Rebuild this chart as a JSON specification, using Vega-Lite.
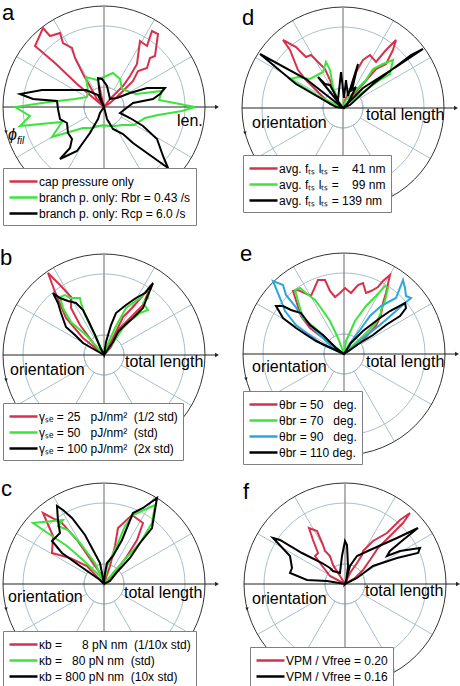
{
"$schema":"https://vega.github.io/schema/vega-lite/v6.json",
"padding":0,
"autosize":{"type":"pad"},
"columns":2,
"spacing":0,
"bounds":"flush",
"config":{"view":{"stroke":null},"font":"Liberation Sans","axis":{"disable":true},
"legend":{"labelFont":"Liberation Sans","labelFontSize":12,"labelColor":"black","padding":5,"rowPadding":1,"fillColor":"white","strokeColor":"#7f7f7f","symbolSize":196,"symbolStrokeWidth":2.5,"labelOffset":14,"cornerRadius":0}},
"resolve":{"scale":{"color":"independent","radius":"independent"},"legend":{"color":"independent"}},
"datasets":{
"rings":[{"r":20},{"r":61}],
"spokes":[{"x":17.3,"y":10,"x2":87.5,"y2":50.5},{"x":10,"y":17.3,"x2":50.5,"y2":87.5},{"x":-10,"y":17.3,"x2":-50.5,"y2":87.5},{"x":-17.3,"y":10,"x2":-87.5,"y2":50.5},{"x":-17.3,"y":-10,"x2":-87.5,"y2":-50.5},{"x":-10,"y":-17.3,"x2":-50.5,"y2":-87.5},{"x":10,"y":-17.3,"x2":50.5,"y2":-87.5},{"x":17.3,"y":-10,"x2":87.5,"y2":-50.5}],
"a":[
{"s":"1","i":0,"x":0,"y":0},{"s":"1","i":1,"x":-27,"y":23},{"s":"1","i":2,"x":-49,"y":44},{"s":"1","i":3,"x":-69,"y":61},{"s":"1","i":4,"x":-61,"y":79},{"s":"1","i":5,"x":-54,"y":71},{"s":"1","i":6,"x":-44,"y":74},{"s":"1","i":7,"x":-41,"y":64},{"s":"1","i":8,"x":-32,"y":59},{"s":"1","i":9,"x":-29,"y":49},{"s":"1","i":10,"x":-21,"y":33},{"s":"1","i":11,"x":-7,"y":8},{"s":"1","i":12,"x":0,"y":0},{"s":"1","i":13,"x":-5,"y":22},{"s":"1","i":14,"x":-2,"y":4},{"s":"1","i":15,"x":0,"y":0},{"s":"1","i":16,"x":6,"y":8},{"s":"1","i":17,"x":19,"y":21},{"s":"1","i":18,"x":26,"y":31},{"s":"1","i":19,"x":33,"y":43},{"s":"1","i":20,"x":36,"y":66},{"s":"1","i":21,"x":43,"y":61},{"s":"1","i":22,"x":48,"y":76},{"s":"1","i":23,"x":54,"y":73},{"s":"1","i":24,"x":51,"y":51},{"s":"1","i":25,"x":46,"y":49},{"s":"1","i":26,"x":43,"y":39},{"s":"1","i":27,"x":34,"y":36},{"s":"1","i":28,"x":29,"y":26},{"s":"1","i":29,"x":16,"y":13},{"s":"1","i":30,"x":6,"y":4},{"s":"1","i":31,"x":0,"y":0},
{"s":"2","i":0,"x":91,"y":0},{"s":"2","i":1,"x":55,"y":7},{"s":"2","i":2,"x":58,"y":16},{"s":"2","i":3,"x":32,"y":13},{"s":"2","i":4,"x":26,"y":15},{"s":"2","i":5,"x":18,"y":18},{"s":"2","i":6,"x":16,"y":28},{"s":"2","i":7,"x":9,"y":34},{"s":"2","i":8,"x":0,"y":30},{"s":"2","i":9,"x":-7,"y":27},{"s":"2","i":10,"x":-18,"y":30},{"s":"2","i":11,"x":-16,"y":16},{"s":"2","i":12,"x":-17,"y":10},{"s":"2","i":13,"x":-29,"y":8},{"s":"2","i":14,"x":-55,"y":5},{"s":"2","i":15,"x":-89,"y":0},{"s":"2","i":16,"x":-74,"y":-9},{"s":"2","i":17,"x":-84,"y":-19},{"s":"2","i":18,"x":-42,"y":-15},{"s":"2","i":19,"x":-52,"y":-30},{"s":"2","i":20,"x":-21,"y":-21},{"s":"2","i":21,"x":-12,"y":-21},{"s":"2","i":22,"x":-5,"y":-19},{"s":"2","i":23,"x":0,"y":-18},{"s":"2","i":24,"x":5,"y":-19},{"s":"2","i":25,"x":11,"y":-19},{"s":"2","i":26,"x":18,"y":-18},{"s":"2","i":27,"x":30,"y":-18},{"s":"2","i":28,"x":41,"y":-11},{"s":"2","i":29,"x":54,"y":-8},{"s":"2","i":30,"x":78,"y":-4},{"s":"2","i":31,"x":91,"y":0},
{"s":"3","i":0,"x":0,"y":0},{"s":"3","i":1,"x":-6,"y":12},{"s":"3","i":2,"x":-18,"y":17},{"s":"3","i":3,"x":-38,"y":17},{"s":"3","i":4,"x":-62,"y":17},{"s":"3","i":5,"x":-84,"y":13},{"s":"3","i":6,"x":-71,"y":8},{"s":"3","i":7,"x":-47,"y":6},{"s":"3","i":8,"x":-46,"y":-2},{"s":"3","i":9,"x":-44,"y":-12},{"s":"3","i":10,"x":-37,"y":-16},{"s":"3","i":11,"x":-36,"y":-26},{"s":"3","i":12,"x":-32,"y":-32},{"s":"3","i":13,"x":-34,"y":-41},{"s":"3","i":14,"x":-44,"y":-52},{"s":"3","i":15,"x":-27,"y":-44},{"s":"3","i":16,"x":-14,"y":-26},{"s":"3","i":17,"x":-6,"y":-12},{"s":"3","i":18,"x":-4,"y":-6},{"s":"3","i":19,"x":0,"y":0},{"s":"3","i":20,"x":3,"y":-12},{"s":"3","i":21,"x":9,"y":-22},{"s":"3","i":22,"x":19,"y":-27},{"s":"3","i":23,"x":29,"y":-36},{"s":"3","i":24,"x":43,"y":-46},{"s":"3","i":25,"x":64,"y":-61},{"s":"3","i":26,"x":59,"y":-49},{"s":"3","i":27,"x":53,"y":-32},{"s":"3","i":28,"x":39,"y":-19},{"s":"3","i":29,"x":26,"y":-11},{"s":"3","i":30,"x":16,"y":-6},{"s":"3","i":31,"x":29,"y":4},{"s":"3","i":32,"x":49,"y":8},{"s":"3","i":33,"x":56,"y":13},{"s":"3","i":34,"x":61,"y":19},{"s":"3","i":35,"x":43,"y":19},{"s":"3","i":36,"x":26,"y":14},{"s":"3","i":37,"x":13,"y":9},{"s":"3","i":38,"x":6,"y":8},{"s":"3","i":39,"x":3,"y":21},{"s":"3","i":40,"x":-2,"y":28},{"s":"3","i":41,"x":-6,"y":29},{"s":"3","i":42,"x":-4,"y":11},{"s":"3","i":43,"x":0,"y":0}],
"b":[
{"s":"1","i":0,"x":0,"y":0},{"s":"1","i":1,"x":-21,"y":17},{"s":"1","i":2,"x":-38,"y":37},{"s":"1","i":3,"x":-49,"y":63},{"s":"1","i":4,"x":-56,"y":82},{"s":"1","i":5,"x":-44,"y":70},{"s":"1","i":6,"x":-33,"y":58},{"s":"1","i":7,"x":-33,"y":47},{"s":"1","i":8,"x":-24,"y":30},{"s":"1","i":9,"x":-4,"y":3},{"s":"1","i":10,"x":0,"y":0},{"s":"1","i":11,"x":9,"y":17},{"s":"1","i":12,"x":19,"y":38},{"s":"1","i":13,"x":29,"y":48},{"s":"1","i":14,"x":42,"y":63},{"s":"1","i":15,"x":47,"y":70},{"s":"1","i":16,"x":39,"y":50},{"s":"1","i":17,"x":29,"y":40},{"s":"1","i":18,"x":16,"y":27},{"s":"1","i":19,"x":7,"y":8},{"s":"1","i":20,"x":0,"y":0},
{"s":"2","i":0,"x":0,"y":0},{"s":"2","i":1,"x":-18,"y":20},{"s":"2","i":2,"x":-33,"y":33},{"s":"2","i":3,"x":-41,"y":47},{"s":"2","i":4,"x":-44,"y":58},{"s":"2","i":5,"x":-39,"y":60},{"s":"2","i":6,"x":-34,"y":57},{"s":"2","i":7,"x":-24,"y":57},{"s":"2","i":8,"x":-23,"y":52},{"s":"2","i":9,"x":-19,"y":40},{"s":"2","i":10,"x":-9,"y":20},{"s":"2","i":11,"x":-3,"y":7},{"s":"2","i":12,"x":0,"y":0},{"s":"2","i":13,"x":2,"y":7},{"s":"2","i":14,"x":11,"y":27},{"s":"2","i":15,"x":22,"y":47},{"s":"2","i":16,"x":36,"y":57},{"s":"2","i":17,"x":46,"y":68},{"s":"2","i":18,"x":44,"y":57},{"s":"2","i":19,"x":39,"y":52},{"s":"2","i":20,"x":44,"y":45},{"s":"2","i":21,"x":36,"y":42},{"s":"2","i":22,"x":27,"y":35},{"s":"2","i":23,"x":19,"y":27},{"s":"2","i":24,"x":9,"y":12},{"s":"2","i":25,"x":0,"y":0},
{"s":"3","i":0,"x":0,"y":0},{"s":"3","i":1,"x":-21,"y":12},{"s":"3","i":2,"x":-29,"y":20},{"s":"3","i":3,"x":-38,"y":28},{"s":"3","i":4,"x":-43,"y":42},{"s":"3","i":5,"x":-46,"y":52},{"s":"3","i":6,"x":-51,"y":62},{"s":"3","i":7,"x":-44,"y":57},{"s":"3","i":8,"x":-36,"y":54},{"s":"3","i":9,"x":-28,"y":52},{"s":"3","i":10,"x":-21,"y":45},{"s":"3","i":11,"x":-16,"y":35},{"s":"3","i":12,"x":-9,"y":20},{"s":"3","i":13,"x":-4,"y":8},{"s":"3","i":14,"x":0,"y":0},{"s":"3","i":15,"x":2,"y":13},{"s":"3","i":16,"x":7,"y":30},{"s":"3","i":17,"x":12,"y":42},{"s":"3","i":18,"x":22,"y":50},{"s":"3","i":19,"x":32,"y":57},{"s":"3","i":20,"x":41,"y":62},{"s":"3","i":21,"x":49,"y":72},{"s":"3","i":22,"x":44,"y":60},{"s":"3","i":23,"x":39,"y":47},{"s":"3","i":24,"x":29,"y":37},{"s":"3","i":25,"x":21,"y":30},{"s":"3","i":26,"x":14,"y":23},{"s":"3","i":27,"x":9,"y":13},{"s":"3","i":28,"x":0,"y":0}],
"c":[
{"s":"1","i":0,"x":0,"y":0},{"s":"1","i":1,"x":-17,"y":18},{"s":"1","i":2,"x":-34,"y":26},{"s":"1","i":3,"x":-52,"y":31},{"s":"1","i":4,"x":-51,"y":48},{"s":"1","i":5,"x":-61,"y":71},{"s":"1","i":6,"x":-42,"y":61},{"s":"1","i":7,"x":-27,"y":44},{"s":"1","i":8,"x":-11,"y":21},{"s":"1","i":9,"x":-2,"y":8},{"s":"1","i":10,"x":0,"y":0},{"s":"1","i":11,"x":6,"y":18},{"s":"1","i":12,"x":11,"y":38},{"s":"1","i":13,"x":14,"y":56},{"s":"1","i":14,"x":28,"y":69},{"s":"1","i":15,"x":39,"y":61},{"s":"1","i":16,"x":33,"y":44},{"s":"1","i":17,"x":23,"y":28},{"s":"1","i":18,"x":9,"y":9},{"s":"1","i":19,"x":0,"y":0},
{"s":"2","i":0,"x":0,"y":0},{"s":"2","i":1,"x":-4,"y":8},{"s":"2","i":2,"x":-21,"y":24},{"s":"2","i":3,"x":-37,"y":38},{"s":"2","i":4,"x":-52,"y":48},{"s":"2","i":5,"x":-71,"y":61},{"s":"2","i":6,"x":-41,"y":64},{"s":"2","i":7,"x":-46,"y":58},{"s":"2","i":8,"x":-36,"y":54},{"s":"2","i":9,"x":-24,"y":41},{"s":"2","i":10,"x":-9,"y":21},{"s":"2","i":11,"x":-1,"y":4},{"s":"2","i":12,"x":0,"y":0},{"s":"2","i":13,"x":3,"y":18},{"s":"2","i":14,"x":14,"y":41},{"s":"2","i":15,"x":21,"y":58},{"s":"2","i":16,"x":29,"y":69},{"s":"2","i":17,"x":51,"y":79},{"s":"2","i":18,"x":48,"y":61},{"s":"2","i":19,"x":36,"y":41},{"s":"2","i":20,"x":24,"y":28},{"s":"2","i":21,"x":9,"y":11},{"s":"2","i":22,"x":0,"y":0},
{"s":"3","i":0,"x":0,"y":0},{"s":"3","i":1,"x":-4,"y":4},{"s":"3","i":2,"x":-24,"y":18},{"s":"3","i":3,"x":-42,"y":31},{"s":"3","i":4,"x":-52,"y":43},{"s":"3","i":5,"x":-47,"y":48},{"s":"3","i":6,"x":-44,"y":51},{"s":"3","i":7,"x":-46,"y":63},{"s":"3","i":8,"x":-47,"y":78},{"s":"3","i":9,"x":-41,"y":74},{"s":"3","i":10,"x":-32,"y":66},{"s":"3","i":11,"x":-19,"y":49},{"s":"3","i":12,"x":-11,"y":34},{"s":"3","i":13,"x":-4,"y":21},{"s":"3","i":14,"x":-2,"y":11},{"s":"3","i":15,"x":0,"y":0},{"s":"3","i":16,"x":1,"y":11},{"s":"3","i":17,"x":3,"y":21},{"s":"3","i":18,"x":9,"y":28},{"s":"3","i":19,"x":18,"y":44},{"s":"3","i":20,"x":29,"y":71},{"s":"3","i":21,"x":39,"y":76},{"s":"3","i":22,"x":53,"y":86},{"s":"3","i":23,"x":48,"y":56},{"s":"3","i":24,"x":36,"y":41},{"s":"3","i":25,"x":26,"y":26},{"s":"3","i":26,"x":14,"y":13},{"s":"3","i":27,"x":6,"y":3},{"s":"3","i":28,"x":0,"y":0}],
"d":[
{"s":"1","i":0,"x":0,"y":0},{"s":"1","i":1,"x":-13,"y":4},{"s":"1","i":2,"x":-37,"y":28},{"s":"1","i":3,"x":-45,"y":38},{"s":"1","i":4,"x":-53,"y":58},{"s":"1","i":5,"x":-60,"y":68},{"s":"1","i":6,"x":-47,"y":61},{"s":"1","i":7,"x":-37,"y":51},{"s":"1","i":8,"x":-32,"y":53},{"s":"1","i":9,"x":-27,"y":48},{"s":"1","i":10,"x":-18,"y":39},{"s":"1","i":11,"x":-13,"y":28},{"s":"1","i":12,"x":-7,"y":11},{"s":"1","i":13,"x":-2,"y":1},{"s":"1","i":14,"x":0,"y":0},{"s":"1","i":15,"x":2,"y":8},{"s":"1","i":16,"x":7,"y":18},{"s":"1","i":17,"x":13,"y":36},{"s":"1","i":18,"x":20,"y":48},{"s":"1","i":19,"x":27,"y":53},{"s":"1","i":20,"x":33,"y":46},{"s":"1","i":21,"x":43,"y":58},{"s":"1","i":22,"x":53,"y":68},{"s":"1","i":23,"x":50,"y":58},{"s":"1","i":24,"x":43,"y":44},{"s":"1","i":25,"x":33,"y":39},{"s":"1","i":26,"x":20,"y":24},{"s":"1","i":27,"x":10,"y":13},{"s":"1","i":28,"x":3,"y":3},{"s":"1","i":29,"x":0,"y":0},
{"s":"2","i":0,"x":0,"y":0},{"s":"2","i":1,"x":-23,"y":11},{"s":"2","i":2,"x":-53,"y":29},{"s":"2","i":3,"x":-45,"y":31},{"s":"2","i":4,"x":-33,"y":29},{"s":"2","i":5,"x":-20,"y":36},{"s":"2","i":6,"x":-17,"y":46},{"s":"2","i":7,"x":-13,"y":38},{"s":"2","i":8,"x":-10,"y":21},{"s":"2","i":9,"x":-5,"y":8},{"s":"2","i":10,"x":0,"y":0},{"s":"2","i":11,"x":3,"y":8},{"s":"2","i":12,"x":13,"y":18},{"s":"2","i":13,"x":23,"y":28},{"s":"2","i":14,"x":30,"y":39},{"s":"2","i":15,"x":40,"y":44},{"s":"2","i":16,"x":50,"y":48},{"s":"2","i":17,"x":47,"y":34},{"s":"2","i":18,"x":37,"y":28},{"s":"2","i":19,"x":27,"y":21},{"s":"2","i":20,"x":13,"y":11},{"s":"2","i":21,"x":3,"y":3},{"s":"2","i":22,"x":0,"y":0},
{"s":"3","i":0,"x":0,"y":0},{"s":"3","i":1,"x":-37,"y":29},{"s":"3","i":2,"x":-83,"y":54},{"s":"3","i":3,"x":-47,"y":24},{"s":"3","i":4,"x":-7,"y":1},{"s":"3","i":5,"x":0,"y":0},{"s":"3","i":6,"x":-25,"y":31},{"s":"3","i":7,"x":-18,"y":24},{"s":"3","i":8,"x":-13,"y":23},{"s":"3","i":9,"x":-5,"y":8},{"s":"3","i":10,"x":-2,"y":36},{"s":"3","i":11,"x":1,"y":10},{"s":"3","i":12,"x":3,"y":28},{"s":"3","i":13,"x":5,"y":12},{"s":"3","i":14,"x":15,"y":44},{"s":"3","i":15,"x":9,"y":18},{"s":"3","i":16,"x":13,"y":21},{"s":"3","i":17,"x":5,"y":5},{"s":"3","i":18,"x":0,"y":0},{"s":"3","i":19,"x":20,"y":20},{"s":"3","i":20,"x":53,"y":41},{"s":"3","i":21,"x":80,"y":59},{"s":"3","i":22,"x":68,"y":53},{"s":"3","i":23,"x":30,"y":24},{"s":"3","i":24,"x":7,"y":3},{"s":"3","i":25,"x":0,"y":0}],
"e":[
{"s":"1","i":0,"x":0,"y":0},{"s":"1","i":1,"x":-34,"y":26},{"s":"1","i":2,"x":-43,"y":38},{"s":"1","i":3,"x":-51,"y":63},{"s":"1","i":4,"x":-46,"y":64},{"s":"1","i":5,"x":-33,"y":58},{"s":"1","i":6,"x":-26,"y":74},{"s":"1","i":7,"x":-19,"y":74},{"s":"1","i":8,"x":-14,"y":63},{"s":"1","i":9,"x":-9,"y":57},{"s":"1","i":10,"x":-4,"y":61},{"s":"1","i":11,"x":1,"y":66},{"s":"1","i":12,"x":7,"y":61},{"s":"1","i":13,"x":14,"y":69},{"s":"1","i":14,"x":19,"y":71},{"s":"1","i":15,"x":22,"y":61},{"s":"1","i":16,"x":27,"y":63},{"s":"1","i":17,"x":34,"y":67},{"s":"1","i":18,"x":39,"y":73},{"s":"1","i":19,"x":46,"y":79},{"s":"1","i":20,"x":42,"y":61},{"s":"1","i":21,"x":39,"y":51},{"s":"1","i":22,"x":37,"y":39},{"s":"1","i":23,"x":32,"y":28},{"s":"1","i":24,"x":19,"y":14},{"s":"1","i":25,"x":6,"y":4},{"s":"1","i":26,"x":0,"y":0},
{"s":"2","i":0,"x":0,"y":0},{"s":"2","i":1,"x":-11,"y":9},{"s":"2","i":2,"x":-29,"y":26},{"s":"2","i":3,"x":-41,"y":36},{"s":"2","i":4,"x":-46,"y":53},{"s":"2","i":5,"x":-49,"y":64},{"s":"2","i":6,"x":-44,"y":66},{"s":"2","i":7,"x":-38,"y":61},{"s":"2","i":8,"x":-29,"y":54},{"s":"2","i":9,"x":-23,"y":46},{"s":"2","i":10,"x":-14,"y":33},{"s":"2","i":11,"x":-6,"y":16},{"s":"2","i":12,"x":-1,"y":3},{"s":"2","i":13,"x":0,"y":0},{"s":"2","i":14,"x":2,"y":13},{"s":"2","i":15,"x":11,"y":33},{"s":"2","i":16,"x":22,"y":48},{"s":"2","i":17,"x":32,"y":58},{"s":"2","i":18,"x":41,"y":68},{"s":"2","i":19,"x":44,"y":66},{"s":"2","i":20,"x":41,"y":53},{"s":"2","i":21,"x":37,"y":44},{"s":"2","i":22,"x":37,"y":41},{"s":"2","i":23,"x":32,"y":31},{"s":"2","i":24,"x":19,"y":18},{"s":"2","i":25,"x":6,"y":6},{"s":"2","i":26,"x":0,"y":0},
{"s":"3","i":0,"x":0,"y":0},{"s":"3","i":1,"x":-21,"y":9},{"s":"3","i":2,"x":-48,"y":29},{"s":"3","i":3,"x":-59,"y":43},{"s":"3","i":4,"x":-64,"y":56},{"s":"3","i":5,"x":-71,"y":73},{"s":"3","i":6,"x":-61,"y":69},{"s":"3","i":7,"x":-58,"y":59},{"s":"3","i":8,"x":-49,"y":48},{"s":"3","i":9,"x":-43,"y":39},{"s":"3","i":10,"x":-28,"y":23},{"s":"3","i":11,"x":-11,"y":6},{"s":"3","i":12,"x":0,"y":0},{"s":"3","i":13,"x":6,"y":11},{"s":"3","i":14,"x":16,"y":24},{"s":"3","i":15,"x":26,"y":38},{"s":"3","i":16,"x":37,"y":48},{"s":"3","i":17,"x":52,"y":56},{"s":"3","i":18,"x":59,"y":74},{"s":"3","i":19,"x":61,"y":66},{"s":"3","i":20,"x":62,"y":58},{"s":"3","i":21,"x":67,"y":56},{"s":"3","i":22,"x":61,"y":51},{"s":"3","i":23,"x":52,"y":43},{"s":"3","i":24,"x":36,"y":29},{"s":"3","i":25,"x":19,"y":16},{"s":"3","i":26,"x":6,"y":4},{"s":"3","i":27,"x":0,"y":0},
{"s":"4","i":0,"x":0,"y":0},{"s":"4","i":1,"x":-28,"y":13},{"s":"4","i":2,"x":-48,"y":26},{"s":"4","i":3,"x":-61,"y":36},{"s":"4","i":4,"x":-68,"y":48},{"s":"4","i":5,"x":-61,"y":48},{"s":"4","i":6,"x":-53,"y":44},{"s":"4","i":7,"x":-43,"y":41},{"s":"4","i":8,"x":-34,"y":29},{"s":"4","i":9,"x":-21,"y":19},{"s":"4","i":10,"x":-8,"y":6},{"s":"4","i":11,"x":0,"y":0},{"s":"4","i":12,"x":7,"y":11},{"s":"4","i":13,"x":19,"y":23},{"s":"4","i":14,"x":36,"y":36},{"s":"4","i":15,"x":46,"y":43},{"s":"4","i":16,"x":61,"y":51},{"s":"4","i":17,"x":62,"y":46},{"s":"4","i":18,"x":56,"y":38},{"s":"4","i":19,"x":42,"y":29},{"s":"4","i":20,"x":29,"y":19},{"s":"4","i":21,"x":16,"y":11},{"s":"4","i":22,"x":0,"y":0}],
"f":[
{"s":"1","i":0,"x":0,"y":0},{"s":"1","i":1,"x":-15,"y":8},{"s":"1","i":2,"x":-25,"y":21},{"s":"1","i":3,"x":-30,"y":28},{"s":"1","i":4,"x":-27,"y":31},{"s":"1","i":5,"x":-32,"y":44},{"s":"1","i":6,"x":-36,"y":56},{"s":"1","i":7,"x":-28,"y":53},{"s":"1","i":8,"x":-25,"y":46},{"s":"1","i":9,"x":-22,"y":39},{"s":"1","i":10,"x":-20,"y":33},{"s":"1","i":11,"x":-15,"y":28},{"s":"1","i":12,"x":-12,"y":19},{"s":"1","i":13,"x":-5,"y":8},{"s":"1","i":14,"x":0,"y":0},{"s":"1","i":15,"x":5,"y":11},{"s":"1","i":16,"x":12,"y":21},{"s":"1","i":17,"x":17,"y":29},{"s":"1","i":18,"x":18,"y":33},{"s":"1","i":19,"x":28,"y":43},{"s":"1","i":20,"x":42,"y":51},{"s":"1","i":21,"x":55,"y":64},{"s":"1","i":22,"x":65,"y":71},{"s":"1","i":23,"x":58,"y":61},{"s":"1","i":24,"x":45,"y":48},{"s":"1","i":25,"x":33,"y":36},{"s":"1","i":26,"x":25,"y":24},{"s":"1","i":27,"x":18,"y":14},{"s":"1","i":28,"x":10,"y":6},{"s":"1","i":29,"x":0,"y":0},
{"s":"2","i":0,"x":0,"y":0},{"s":"2","i":1,"x":-18,"y":3},{"s":"2","i":2,"x":-38,"y":4},{"s":"2","i":3,"x":-55,"y":11},{"s":"2","i":4,"x":-53,"y":16},{"s":"2","i":5,"x":-55,"y":28},{"s":"2","i":6,"x":-72,"y":46},{"s":"2","i":7,"x":-65,"y":44},{"s":"2","i":8,"x":-43,"y":31},{"s":"2","i":9,"x":-23,"y":21},{"s":"2","i":10,"x":-15,"y":16},{"s":"2","i":11,"x":-12,"y":13},{"s":"2","i":12,"x":-5,"y":11},{"s":"2","i":13,"x":-3,"y":28},{"s":"2","i":14,"x":0,"y":43},{"s":"2","i":15,"x":2,"y":39},{"s":"2","i":16,"x":3,"y":18},{"s":"2","i":17,"x":1,"y":1},{"s":"2","i":18,"x":0,"y":0},{"s":"2","i":19,"x":5,"y":18},{"s":"2","i":20,"x":12,"y":28},{"s":"2","i":21,"x":25,"y":34},{"s":"2","i":22,"x":52,"y":46},{"s":"2","i":23,"x":73,"y":56},{"s":"2","i":24,"x":58,"y":44},{"s":"2","i":25,"x":45,"y":33},{"s":"2","i":26,"x":42,"y":28},{"s":"2","i":27,"x":55,"y":33},{"s":"2","i":28,"x":75,"y":36},{"s":"2","i":29,"x":73,"y":31},{"s":"2","i":30,"x":52,"y":26},{"s":"2","i":31,"x":28,"y":18},{"s":"2","i":32,"x":12,"y":6},{"s":"2","i":33,"x":0,"y":0}]
},
"concat":[
{"width":230,"height":235,"layer":[
{"data":{"name":"rings"},"mark":{"type":"arc","theta":0,"theta2":6.2832,"filled":false,"stroke":"#a9bfcb","strokeWidth":1},"encoding":{"x":{"datum":0,"type":"quantitative","scale":{"domain":[-104,126],"nice":false,"zero":false}},"y":{"datum":0,"type":"quantitative","scale":{"domain":[-128,107],"nice":false,"zero":false}},"radius":{"field":"r","type":"quantitative","scale":{"type":"linear","domain":[0,101],"range":[0,101]}}}},
{"data":{"name":"spokes"},"mark":{"type":"rule","stroke":"#a9bfcb","strokeWidth":1},"encoding":{"x":{"field":"x","type":"quantitative","scale":{"domain":[-104,126],"nice":false,"zero":false}},"y":{"field":"y","type":"quantitative","scale":{"domain":[-128,107],"nice":false,"zero":false}},"x2":{"field":"x2"},"y2":{"field":"y2"}}},
{"data":{"values":[{}]},"mark":{"type":"arc","theta":0,"theta2":6.2832,"filled":false,"stroke":"#333333","strokeWidth":1},"encoding":{"x":{"datum":0,"type":"quantitative","scale":{"domain":[-104,126],"nice":false,"zero":false}},"y":{"datum":0,"type":"quantitative","scale":{"domain":[-128,107],"nice":false,"zero":false}},"radius":{"datum":101,"type":"quantitative","scale":{"type":"linear","domain":[0,101],"range":[0,101]}}}},
{"data":{"values":[{}]},"mark":{"type":"rule","stroke":"#999999","strokeWidth":1.5},"encoding":{"x":{"datum":0,"type":"quantitative","scale":{"domain":[-104,126],"nice":false,"zero":false}},"y":{"datum":-101,"type":"quantitative","scale":{"domain":[-128,107],"nice":false,"zero":false}},"y2":{"datum":101}}},
{"data":{"values":[{}]},"mark":{"type":"rule","stroke":"#222222","strokeWidth":1},"encoding":{"x":{"datum":-101,"type":"quantitative","scale":{"domain":[-104,126],"nice":false,"zero":false}},"x2":{"datum":112},"y":{"datum":0,"type":"quantitative","scale":{"domain":[-128,107],"nice":false,"zero":false}}}},
{"data":{"values":[{}]},"mark":{"type":"point","shape":"triangle-right","filled":true,"color":"#222222","opacity":1,"size":20},"encoding":{"x":{"datum":113,"type":"quantitative","scale":{"domain":[-104,126],"nice":false,"zero":false}},"y":{"datum":0,"type":"quantitative","scale":{"domain":[-128,107],"nice":false,"zero":false}}}},
{"data":{"values":[{}]},"mark":{"type":"point","shape":"triangle-down","filled":true,"color":"#222222","opacity":1,"size":12},"encoding":{"x":{"datum":-98,"type":"quantitative","scale":{"domain":[-104,126],"nice":false,"zero":false}},"y":{"datum":-25,"type":"quantitative","scale":{"domain":[-128,107],"nice":false,"zero":false}}}},
{"data":{"name":"a"},"mark":{"type":"line","strokeWidth":2},"encoding":{"x":{"field":"x","type":"quantitative","scale":{"domain":[-104,126],"nice":false,"zero":false}},"y":{"field":"y","type":"quantitative","scale":{"domain":[-128,107],"nice":false,"zero":false}},"order":{"field":"i"},"color":{"field":"s","type":"nominal","scale":{"domain":["1","2","3"],"range":["#d8304a","#3be43b","#000000"]},"legend":{"orient":"none","legendX":3,"legendY":168,"title":null,"symbolType":"M-1,0L3,0","labelExpr":"datum.label=='1'?'cap pressure only':datum.label=='2'?'branch p. only: Rbr = 0.43 /s':'branch p. only: Rcp = 6.0 /s'"}}}},
{"data":{"values":[{}]},"mark":{"type":"text","text":"a","fontSize":22,"align":"left","baseline":"alphabetic"},"encoding":{"x":{"datum":-102,"type":"quantitative","scale":{"domain":[-104,126],"nice":false,"zero":false}},"y":{"datum":87,"type":"quantitative","scale":{"domain":[-128,107],"nice":false,"zero":false}}}},
{"data":{"values":[{}]},"mark":{"type":"text","text":"len.","fontSize":16,"align":"left","baseline":"alphabetic"},"encoding":{"x":{"datum":73,"type":"quantitative","scale":{"domain":[-104,126],"nice":false,"zero":false}},"y":{"datum":-19,"type":"quantitative","scale":{"domain":[-128,107],"nice":false,"zero":false}}}},
{"data":{"values":[{}]},"mark":{"type":"text","text":"ϕ","fontSize":16,"fontStyle":"italic","align":"left","baseline":"alphabetic"},"encoding":{"x":{"datum":-96,"type":"quantitative","scale":{"domain":[-104,126],"nice":false,"zero":false}},"y":{"datum":-33,"type":"quantitative","scale":{"domain":[-128,107],"nice":false,"zero":false}}}},
{"data":{"values":[{}]},"mark":{"type":"text","text":"fil","fontSize":10,"fontStyle":"italic","align":"left","baseline":"alphabetic"},"encoding":{"x":{"datum":-87,"type":"quantitative","scale":{"domain":[-104,126],"nice":false,"zero":false}},"y":{"datum":-37,"type":"quantitative","scale":{"domain":[-128,107],"nice":false,"zero":false}}}}
]},
{"width":230,"height":235,"layer":[
{"data":{"name":"rings"},"mark":{"type":"arc","theta":0,"theta2":6.2832,"filled":false,"stroke":"#a9bfcb","strokeWidth":1},"encoding":{"x":{"datum":0,"type":"quantitative","scale":{"domain":[-113,117],"nice":false,"zero":false}},"y":{"datum":0,"type":"quantitative","scale":{"domain":[-127,108],"nice":false,"zero":false}},"radius":{"field":"r","type":"quantitative","scale":{"type":"linear","domain":[0,101],"range":[0,101]}}}},
{"data":{"name":"spokes"},"mark":{"type":"rule","stroke":"#a9bfcb","strokeWidth":1},"encoding":{"x":{"field":"x","type":"quantitative","scale":{"domain":[-113,117],"nice":false,"zero":false}},"y":{"field":"y","type":"quantitative","scale":{"domain":[-127,108],"nice":false,"zero":false}},"x2":{"field":"x2"},"y2":{"field":"y2"}}},
{"data":{"values":[{}]},"mark":{"type":"arc","theta":0,"theta2":6.2832,"filled":false,"stroke":"#333333","strokeWidth":1},"encoding":{"x":{"datum":0,"type":"quantitative","scale":{"domain":[-113,117],"nice":false,"zero":false}},"y":{"datum":0,"type":"quantitative","scale":{"domain":[-127,108],"nice":false,"zero":false}},"radius":{"datum":101,"type":"quantitative","scale":{"type":"linear","domain":[0,101],"range":[0,101]}}}},
{"data":{"values":[{}]},"mark":{"type":"rule","stroke":"#999999","strokeWidth":1.5},"encoding":{"x":{"datum":0,"type":"quantitative","scale":{"domain":[-113,117],"nice":false,"zero":false}},"y":{"datum":-101,"type":"quantitative","scale":{"domain":[-127,108],"nice":false,"zero":false}},"y2":{"datum":101}}},
{"data":{"values":[{}]},"mark":{"type":"rule","stroke":"#222222","strokeWidth":1},"encoding":{"x":{"datum":-101,"type":"quantitative","scale":{"domain":[-113,117],"nice":false,"zero":false}},"x2":{"datum":112},"y":{"datum":0,"type":"quantitative","scale":{"domain":[-127,108],"nice":false,"zero":false}}}},
{"data":{"values":[{}]},"mark":{"type":"point","shape":"triangle-right","filled":true,"color":"#222222","opacity":1,"size":20},"encoding":{"x":{"datum":113,"type":"quantitative","scale":{"domain":[-113,117],"nice":false,"zero":false}},"y":{"datum":0,"type":"quantitative","scale":{"domain":[-127,108],"nice":false,"zero":false}}}},
{"data":{"values":[{}]},"mark":{"type":"point","shape":"triangle-down","filled":true,"color":"#222222","opacity":1,"size":12},"encoding":{"x":{"datum":-98,"type":"quantitative","scale":{"domain":[-113,117],"nice":false,"zero":false}},"y":{"datum":-25,"type":"quantitative","scale":{"domain":[-127,108],"nice":false,"zero":false}}}},
{"data":{"name":"d"},"mark":{"type":"line","strokeWidth":2},"encoding":{"x":{"field":"x","type":"quantitative","scale":{"domain":[-113,117],"nice":false,"zero":false}},"y":{"field":"y","type":"quantitative","scale":{"domain":[-127,108],"nice":false,"zero":false}},"order":{"field":"i"},"color":{"field":"s","type":"nominal","scale":{"domain":["1","2","3"],"range":["#d8304a","#3be43b","#000000"]},"legend":{"orient":"none","legendX":13,"legendY":155,"title":null,"symbolType":"M-1,0L3,0","labelExpr":"datum.label=='1'?'avg. fₜₛ lₜₛ =\u00a0\u00a0\u00a0\u00a041 nm':datum.label=='2'?'avg. fₜₛ lₜₛ =\u00a0\u00a0\u00a0\u00a099 nm':'avg. fₜₛ lₜₛ = 139 nm'"}}}},
{"data":{"values":[{}]},"mark":{"type":"text","text":"d","fontSize":22,"align":"left","baseline":"alphabetic"},"encoding":{"x":{"datum":-101,"type":"quantitative","scale":{"domain":[-113,117],"nice":false,"zero":false}},"y":{"datum":83,"type":"quantitative","scale":{"domain":[-127,108],"nice":false,"zero":false}}}},
{"data":{"values":[{}]},"mark":{"type":"text","text":"orientation","fontSize":16,"align":"left","baseline":"alphabetic"},"encoding":{"x":{"datum":-91,"type":"quantitative","scale":{"domain":[-113,117],"nice":false,"zero":false}},"y":{"datum":-20,"type":"quantitative","scale":{"domain":[-127,108],"nice":false,"zero":false}}}},
{"data":{"values":[{}]},"mark":{"type":"text","text":"total length","fontSize":16,"align":"left","baseline":"alphabetic"},"encoding":{"x":{"datum":23,"type":"quantitative","scale":{"domain":[-113,117],"nice":false,"zero":false}},"y":{"datum":-12,"type":"quantitative","scale":{"domain":[-127,108],"nice":false,"zero":false}}}}
]},
{"width":230,"height":225,"layer":[
{"data":{"name":"rings"},"mark":{"type":"arc","theta":0,"theta2":6.2832,"filled":false,"stroke":"#a9bfcb","strokeWidth":1},"encoding":{"x":{"datum":0,"type":"quantitative","scale":{"domain":[-104,126],"nice":false,"zero":false}},"y":{"datum":0,"type":"quantitative","scale":{"domain":[-105,120],"nice":false,"zero":false}},"radius":{"field":"r","type":"quantitative","scale":{"type":"linear","domain":[0,101],"range":[0,101]}}}},
{"data":{"name":"spokes"},"mark":{"type":"rule","stroke":"#a9bfcb","strokeWidth":1},"encoding":{"x":{"field":"x","type":"quantitative","scale":{"domain":[-104,126],"nice":false,"zero":false}},"y":{"field":"y","type":"quantitative","scale":{"domain":[-105,120],"nice":false,"zero":false}},"x2":{"field":"x2"},"y2":{"field":"y2"}}},
{"data":{"values":[{}]},"mark":{"type":"arc","theta":0,"theta2":6.2832,"filled":false,"stroke":"#333333","strokeWidth":1},"encoding":{"x":{"datum":0,"type":"quantitative","scale":{"domain":[-104,126],"nice":false,"zero":false}},"y":{"datum":0,"type":"quantitative","scale":{"domain":[-105,120],"nice":false,"zero":false}},"radius":{"datum":101,"type":"quantitative","scale":{"type":"linear","domain":[0,101],"range":[0,101]}}}},
{"data":{"values":[{}]},"mark":{"type":"rule","stroke":"#999999","strokeWidth":1.5},"encoding":{"x":{"datum":0,"type":"quantitative","scale":{"domain":[-104,126],"nice":false,"zero":false}},"y":{"datum":-101,"type":"quantitative","scale":{"domain":[-105,120],"nice":false,"zero":false}},"y2":{"datum":101}}},
{"data":{"values":[{}]},"mark":{"type":"rule","stroke":"#222222","strokeWidth":1},"encoding":{"x":{"datum":-101,"type":"quantitative","scale":{"domain":[-104,126],"nice":false,"zero":false}},"x2":{"datum":112},"y":{"datum":0,"type":"quantitative","scale":{"domain":[-105,120],"nice":false,"zero":false}}}},
{"data":{"values":[{}]},"mark":{"type":"point","shape":"triangle-right","filled":true,"color":"#222222","opacity":1,"size":20},"encoding":{"x":{"datum":113,"type":"quantitative","scale":{"domain":[-104,126],"nice":false,"zero":false}},"y":{"datum":0,"type":"quantitative","scale":{"domain":[-105,120],"nice":false,"zero":false}}}},
{"data":{"values":[{}]},"mark":{"type":"point","shape":"triangle-down","filled":true,"color":"#222222","opacity":1,"size":12},"encoding":{"x":{"datum":-98,"type":"quantitative","scale":{"domain":[-104,126],"nice":false,"zero":false}},"y":{"datum":-25,"type":"quantitative","scale":{"domain":[-105,120],"nice":false,"zero":false}}}},
{"data":{"name":"b"},"mark":{"type":"line","strokeWidth":2},"encoding":{"x":{"field":"x","type":"quantitative","scale":{"domain":[-104,126],"nice":false,"zero":false}},"y":{"field":"y","type":"quantitative","scale":{"domain":[-105,120],"nice":false,"zero":false}},"order":{"field":"i"},"color":{"field":"s","type":"nominal","scale":{"domain":["1","2","3"],"range":["#d8304a","#3be43b","#000000"]},"legend":{"orient":"none","legendX":3,"legendY":168,"title":null,"symbolType":"M-1,0L3,0","labelExpr":"datum.label=='1'?'γₛₑ = 25\u00a0\u00a0\u00a0pJ/nm²\u00a0\u00a0(1/2 std)':datum.label=='2'?'γₛₑ = 50\u00a0\u00a0\u00a0pJ/nm²\u00a0\u00a0(std)':'γₛₑ = 100 pJ/nm²\u00a0\u00a0(2x std)'"}}}},
{"data":{"values":[{}]},"mark":{"type":"text","text":"b","fontSize":22,"align":"left","baseline":"alphabetic"},"encoding":{"x":{"datum":-104,"type":"quantitative","scale":{"domain":[-104,126],"nice":false,"zero":false}},"y":{"datum":90,"type":"quantitative","scale":{"domain":[-105,120],"nice":false,"zero":false}}}},
{"data":{"values":[{}]},"mark":{"type":"text","text":"orientation","fontSize":16,"align":"left","baseline":"alphabetic"},"encoding":{"x":{"datum":-94,"type":"quantitative","scale":{"domain":[-104,126],"nice":false,"zero":false}},"y":{"datum":-20,"type":"quantitative","scale":{"domain":[-105,120],"nice":false,"zero":false}}}},
{"data":{"values":[{}]},"mark":{"type":"text","text":"total length","fontSize":16,"align":"left","baseline":"alphabetic"},"encoding":{"x":{"datum":21,"type":"quantitative","scale":{"domain":[-104,126],"nice":false,"zero":false}},"y":{"datum":-12,"type":"quantitative","scale":{"domain":[-105,120],"nice":false,"zero":false}}}}
]},
{"width":230,"height":225,"layer":[
{"data":{"name":"rings"},"mark":{"type":"arc","theta":0,"theta2":6.2832,"filled":false,"stroke":"#a9bfcb","strokeWidth":1},"encoding":{"x":{"datum":0,"type":"quantitative","scale":{"domain":[-114,116],"nice":false,"zero":false}},"y":{"datum":0,"type":"quantitative","scale":{"domain":[-106,119],"nice":false,"zero":false}},"radius":{"field":"r","type":"quantitative","scale":{"type":"linear","domain":[0,101],"range":[0,101]}}}},
{"data":{"name":"spokes"},"mark":{"type":"rule","stroke":"#a9bfcb","strokeWidth":1},"encoding":{"x":{"field":"x","type":"quantitative","scale":{"domain":[-114,116],"nice":false,"zero":false}},"y":{"field":"y","type":"quantitative","scale":{"domain":[-106,119],"nice":false,"zero":false}},"x2":{"field":"x2"},"y2":{"field":"y2"}}},
{"data":{"values":[{}]},"mark":{"type":"arc","theta":0,"theta2":6.2832,"filled":false,"stroke":"#333333","strokeWidth":1},"encoding":{"x":{"datum":0,"type":"quantitative","scale":{"domain":[-114,116],"nice":false,"zero":false}},"y":{"datum":0,"type":"quantitative","scale":{"domain":[-106,119],"nice":false,"zero":false}},"radius":{"datum":101,"type":"quantitative","scale":{"type":"linear","domain":[0,101],"range":[0,101]}}}},
{"data":{"values":[{}]},"mark":{"type":"rule","stroke":"#999999","strokeWidth":1.5},"encoding":{"x":{"datum":0,"type":"quantitative","scale":{"domain":[-114,116],"nice":false,"zero":false}},"y":{"datum":-101,"type":"quantitative","scale":{"domain":[-106,119],"nice":false,"zero":false}},"y2":{"datum":101}}},
{"data":{"values":[{}]},"mark":{"type":"rule","stroke":"#222222","strokeWidth":1},"encoding":{"x":{"datum":-101,"type":"quantitative","scale":{"domain":[-114,116],"nice":false,"zero":false}},"x2":{"datum":112},"y":{"datum":0,"type":"quantitative","scale":{"domain":[-106,119],"nice":false,"zero":false}}}},
{"data":{"values":[{}]},"mark":{"type":"point","shape":"triangle-right","filled":true,"color":"#222222","opacity":1,"size":20},"encoding":{"x":{"datum":113,"type":"quantitative","scale":{"domain":[-114,116],"nice":false,"zero":false}},"y":{"datum":0,"type":"quantitative","scale":{"domain":[-106,119],"nice":false,"zero":false}}}},
{"data":{"values":[{}]},"mark":{"type":"point","shape":"triangle-down","filled":true,"color":"#222222","opacity":1,"size":12},"encoding":{"x":{"datum":-98,"type":"quantitative","scale":{"domain":[-114,116],"nice":false,"zero":false}},"y":{"datum":-25,"type":"quantitative","scale":{"domain":[-106,119],"nice":false,"zero":false}}}},
{"data":{"name":"e"},"mark":{"type":"line","strokeWidth":2},"encoding":{"x":{"field":"x","type":"quantitative","scale":{"domain":[-114,116],"nice":false,"zero":false}},"y":{"field":"y","type":"quantitative","scale":{"domain":[-106,119],"nice":false,"zero":false}},"order":{"field":"i"},"color":{"field":"s","type":"nominal","scale":{"domain":["1","2","3","4"],"range":["#d8304a","#3be43b","#2ba6e0","#000000"]},"legend":{"orient":"none","legendX":13,"legendY":156,"title":null,"symbolType":"M-1,0L3,0","labelExpr":"datum.label=='1'?'θbr = 50\u00a0\u00a0\u00a0deg.':datum.label=='2'?'θbr = 70\u00a0\u00a0\u00a0deg.':datum.label=='3'?'θbr = 90\u00a0\u00a0\u00a0deg.':'θbr = 110 deg.'"}}}},
{"data":{"values":[{}]},"mark":{"type":"text","text":"e","fontSize":22,"align":"left","baseline":"alphabetic"},"encoding":{"x":{"datum":-104,"type":"quantitative","scale":{"domain":[-114,116],"nice":false,"zero":false}},"y":{"datum":93,"type":"quantitative","scale":{"domain":[-106,119],"nice":false,"zero":false}}}},
{"data":{"values":[{}]},"mark":{"type":"text","text":"orientation","fontSize":16,"align":"left","baseline":"alphabetic"},"encoding":{"x":{"datum":-92,"type":"quantitative","scale":{"domain":[-114,116],"nice":false,"zero":false}},"y":{"datum":-18,"type":"quantitative","scale":{"domain":[-106,119],"nice":false,"zero":false}}}},
{"data":{"values":[{}]},"mark":{"type":"text","text":"total length","fontSize":16,"align":"left","baseline":"alphabetic"},"encoding":{"x":{"datum":22,"type":"quantitative","scale":{"domain":[-114,116],"nice":false,"zero":false}},"y":{"datum":-13,"type":"quantitative","scale":{"domain":[-106,119],"nice":false,"zero":false}}}}
]},
{"width":230,"height":226,"layer":[
{"data":{"name":"rings"},"mark":{"type":"arc","theta":0,"theta2":6.2832,"filled":false,"stroke":"#a9bfcb","strokeWidth":1},"encoding":{"x":{"datum":0,"type":"quantitative","scale":{"domain":[-104,126],"nice":false,"zero":false}},"y":{"datum":0,"type":"quantitative","scale":{"domain":[-102,124],"nice":false,"zero":false}},"radius":{"field":"r","type":"quantitative","scale":{"type":"linear","domain":[0,101],"range":[0,101]}}}},
{"data":{"name":"spokes"},"mark":{"type":"rule","stroke":"#a9bfcb","strokeWidth":1},"encoding":{"x":{"field":"x","type":"quantitative","scale":{"domain":[-104,126],"nice":false,"zero":false}},"y":{"field":"y","type":"quantitative","scale":{"domain":[-102,124],"nice":false,"zero":false}},"x2":{"field":"x2"},"y2":{"field":"y2"}}},
{"data":{"values":[{}]},"mark":{"type":"arc","theta":0,"theta2":6.2832,"filled":false,"stroke":"#333333","strokeWidth":1},"encoding":{"x":{"datum":0,"type":"quantitative","scale":{"domain":[-104,126],"nice":false,"zero":false}},"y":{"datum":0,"type":"quantitative","scale":{"domain":[-102,124],"nice":false,"zero":false}},"radius":{"datum":101,"type":"quantitative","scale":{"type":"linear","domain":[0,101],"range":[0,101]}}}},
{"data":{"values":[{}]},"mark":{"type":"rule","stroke":"#999999","strokeWidth":1.5},"encoding":{"x":{"datum":0,"type":"quantitative","scale":{"domain":[-104,126],"nice":false,"zero":false}},"y":{"datum":-101,"type":"quantitative","scale":{"domain":[-102,124],"nice":false,"zero":false}},"y2":{"datum":101}}},
{"data":{"values":[{}]},"mark":{"type":"rule","stroke":"#222222","strokeWidth":1},"encoding":{"x":{"datum":-101,"type":"quantitative","scale":{"domain":[-104,126],"nice":false,"zero":false}},"x2":{"datum":112},"y":{"datum":0,"type":"quantitative","scale":{"domain":[-102,124],"nice":false,"zero":false}}}},
{"data":{"values":[{}]},"mark":{"type":"point","shape":"triangle-right","filled":true,"color":"#222222","opacity":1,"size":20},"encoding":{"x":{"datum":113,"type":"quantitative","scale":{"domain":[-104,126],"nice":false,"zero":false}},"y":{"datum":0,"type":"quantitative","scale":{"domain":[-102,124],"nice":false,"zero":false}}}},
{"data":{"values":[{}]},"mark":{"type":"point","shape":"triangle-down","filled":true,"color":"#222222","opacity":1,"size":12},"encoding":{"x":{"datum":-98,"type":"quantitative","scale":{"domain":[-104,126],"nice":false,"zero":false}},"y":{"datum":-25,"type":"quantitative","scale":{"domain":[-102,124],"nice":false,"zero":false}}}},
{"data":{"name":"c"},"mark":{"type":"line","strokeWidth":2},"encoding":{"x":{"field":"x","type":"quantitative","scale":{"domain":[-104,126],"nice":false,"zero":false}},"y":{"field":"y","type":"quantitative","scale":{"domain":[-102,124],"nice":false,"zero":false}},"order":{"field":"i"},"color":{"field":"s","type":"nominal","scale":{"domain":["1","2","3"],"range":["#d8304a","#3be43b","#000000"]},"legend":{"orient":"none","legendX":3,"legendY":171,"title":null,"symbolType":"M-1,0L3,0","labelExpr":"datum.label=='1'?'κb =\u00a0\u00a0\u00a0\u00a0\u00a0\u00a08 pN nm\u00a0\u00a0(1/10x std)':datum.label=='2'?'κb =\u00a0\u00a0\u00a080 pN nm\u00a0\u00a0(std)':'κb = 800 pN nm\u00a0\u00a0(10x std)'"}}}},
{"data":{"values":[{}]},"mark":{"type":"text","text":"c","fontSize":22,"align":"left","baseline":"alphabetic"},"encoding":{"x":{"datum":-103,"type":"quantitative","scale":{"domain":[-104,126],"nice":false,"zero":false}},"y":{"datum":88,"type":"quantitative","scale":{"domain":[-102,124],"nice":false,"zero":false}}}},
{"data":{"values":[{}]},"mark":{"type":"text","text":"orientation","fontSize":16,"align":"left","baseline":"alphabetic"},"encoding":{"x":{"datum":-96,"type":"quantitative","scale":{"domain":[-104,126],"nice":false,"zero":false}},"y":{"datum":-18,"type":"quantitative","scale":{"domain":[-102,124],"nice":false,"zero":false}}}},
{"data":{"values":[{}]},"mark":{"type":"text","text":"total length","fontSize":16,"align":"left","baseline":"alphabetic"},"encoding":{"x":{"datum":20,"type":"quantitative","scale":{"domain":[-104,126],"nice":false,"zero":false}},"y":{"datum":-14,"type":"quantitative","scale":{"domain":[-102,124],"nice":false,"zero":false}}}}
]},
{"width":230,"height":226,"layer":[
{"data":{"name":"rings"},"mark":{"type":"arc","theta":0,"theta2":6.2832,"filled":false,"stroke":"#a9bfcb","strokeWidth":1},"encoding":{"x":{"datum":0,"type":"quantitative","scale":{"domain":[-115,115],"nice":false,"zero":false}},"y":{"datum":0,"type":"quantitative","scale":{"domain":[-102,124],"nice":false,"zero":false}},"radius":{"field":"r","type":"quantitative","scale":{"type":"linear","domain":[0,101],"range":[0,101]}}}},
{"data":{"name":"spokes"},"mark":{"type":"rule","stroke":"#a9bfcb","strokeWidth":1},"encoding":{"x":{"field":"x","type":"quantitative","scale":{"domain":[-115,115],"nice":false,"zero":false}},"y":{"field":"y","type":"quantitative","scale":{"domain":[-102,124],"nice":false,"zero":false}},"x2":{"field":"x2"},"y2":{"field":"y2"}}},
{"data":{"values":[{}]},"mark":{"type":"arc","theta":0,"theta2":6.2832,"filled":false,"stroke":"#333333","strokeWidth":1},"encoding":{"x":{"datum":0,"type":"quantitative","scale":{"domain":[-115,115],"nice":false,"zero":false}},"y":{"datum":0,"type":"quantitative","scale":{"domain":[-102,124],"nice":false,"zero":false}},"radius":{"datum":101,"type":"quantitative","scale":{"type":"linear","domain":[0,101],"range":[0,101]}}}},
{"data":{"values":[{}]},"mark":{"type":"rule","stroke":"#999999","strokeWidth":1.5},"encoding":{"x":{"datum":0,"type":"quantitative","scale":{"domain":[-115,115],"nice":false,"zero":false}},"y":{"datum":-101,"type":"quantitative","scale":{"domain":[-102,124],"nice":false,"zero":false}},"y2":{"datum":101}}},
{"data":{"values":[{}]},"mark":{"type":"rule","stroke":"#222222","strokeWidth":1},"encoding":{"x":{"datum":-101,"type":"quantitative","scale":{"domain":[-115,115],"nice":false,"zero":false}},"x2":{"datum":112},"y":{"datum":0,"type":"quantitative","scale":{"domain":[-102,124],"nice":false,"zero":false}}}},
{"data":{"values":[{}]},"mark":{"type":"point","shape":"triangle-right","filled":true,"color":"#222222","opacity":1,"size":20},"encoding":{"x":{"datum":113,"type":"quantitative","scale":{"domain":[-115,115],"nice":false,"zero":false}},"y":{"datum":0,"type":"quantitative","scale":{"domain":[-102,124],"nice":false,"zero":false}}}},
{"data":{"values":[{}]},"mark":{"type":"point","shape":"triangle-down","filled":true,"color":"#222222","opacity":1,"size":12},"encoding":{"x":{"datum":-98,"type":"quantitative","scale":{"domain":[-115,115],"nice":false,"zero":false}},"y":{"datum":-25,"type":"quantitative","scale":{"domain":[-102,124],"nice":false,"zero":false}}}},
{"data":{"name":"f"},"mark":{"type":"line","strokeWidth":2},"encoding":{"x":{"field":"x","type":"quantitative","scale":{"domain":[-115,115],"nice":false,"zero":false}},"y":{"field":"y","type":"quantitative","scale":{"domain":[-102,124],"nice":false,"zero":false}},"order":{"field":"i"},"color":{"field":"s","type":"nominal","scale":{"domain":["1","2"],"range":["#d8304a","#000000"]},"legend":{"orient":"none","legendX":20,"legendY":187,"title":null,"symbolType":"M-1,0L3,0","labelExpr":"datum.label=='1'?'VPM / Vfree = 0.20':'VPM / Vfree = 0.16'"}}}},
{"data":{"values":[{}]},"mark":{"type":"text","text":"f","fontSize":22,"align":"left","baseline":"alphabetic"},"encoding":{"x":{"datum":-102,"type":"quantitative","scale":{"domain":[-115,115],"nice":false,"zero":false}},"y":{"datum":85,"type":"quantitative","scale":{"domain":[-102,124],"nice":false,"zero":false}}}},
{"data":{"values":[{}]},"mark":{"type":"text","text":"orientation","fontSize":16,"align":"left","baseline":"alphabetic"},"encoding":{"x":{"datum":-93,"type":"quantitative","scale":{"domain":[-115,115],"nice":false,"zero":false}},"y":{"datum":-20,"type":"quantitative","scale":{"domain":[-102,124],"nice":false,"zero":false}}}},
{"data":{"values":[{}]},"mark":{"type":"text","text":"total length","fontSize":16,"align":"left","baseline":"alphabetic"},"encoding":{"x":{"datum":20,"type":"quantitative","scale":{"domain":[-115,115],"nice":false,"zero":false}},"y":{"datum":-12,"type":"quantitative","scale":{"domain":[-102,124],"nice":false,"zero":false}}}}
]}
]
}
